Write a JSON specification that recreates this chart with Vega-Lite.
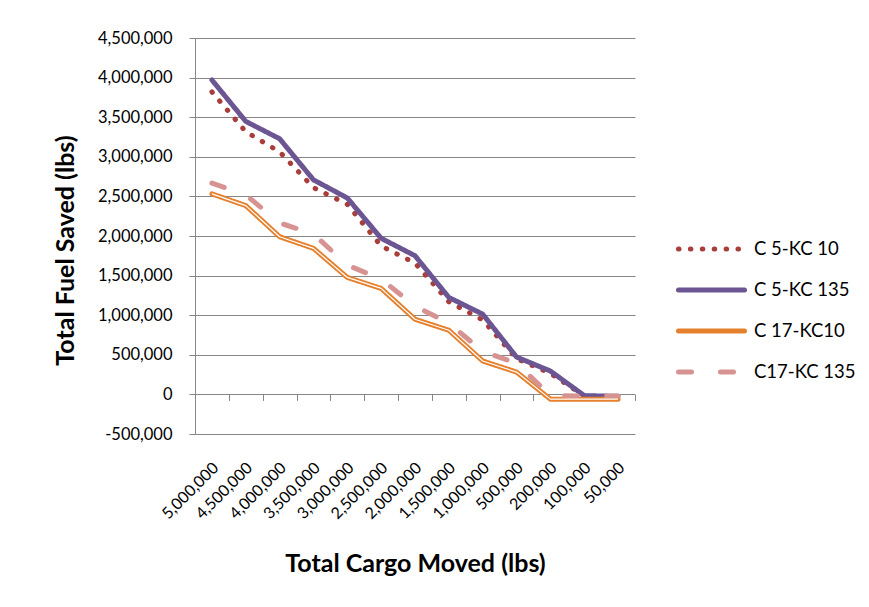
{
  "$schema": "https://vega.github.io/schema/vega-lite/v6.json",
  "width": 440,
  "height": 396,
  "autosize": {"type": "none"},
  "padding": {"left": 195, "top": 38, "right": 234, "bottom": 173},
  "background": "white",
  "config": {"view": {"stroke": null}, "font": "Lato"},
  "data": {
    "values": [
      {"series": "C 5-KC 10", "cargo": "5,000,000", "fuel": 3819000},
      {"series": "C 5-KC 10", "cargo": "4,500,000", "fuel": 3316000},
      {"series": "C 5-KC 10", "cargo": "4,000,000", "fuel": 3063000},
      {"series": "C 5-KC 10", "cargo": "3,500,000", "fuel": 2611000},
      {"series": "C 5-KC 10", "cargo": "3,000,000", "fuel": 2400000},
      {"series": "C 5-KC 10", "cargo": "2,500,000", "fuel": 1873000},
      {"series": "C 5-KC 10", "cargo": "2,000,000", "fuel": 1658000},
      {"series": "C 5-KC 10", "cargo": "1,500,000", "fuel": 1170000},
      {"series": "C 5-KC 10", "cargo": "1,000,000", "fuel": 940000},
      {"series": "C 5-KC 10", "cargo": "500,000", "fuel": 452000},
      {"series": "C 5-KC 10", "cargo": "200,000", "fuel": 266000},
      {"series": "C 5-KC 10", "cargo": "100,000", "fuel": -21000},
      {"series": "C 5-KC 10", "cargo": "50,000", "fuel": -30000},
      {"series": "C 5-KC 135", "cargo": "5,000,000", "fuel": 3970000},
      {"series": "C 5-KC 135", "cargo": "4,500,000", "fuel": 3447000},
      {"series": "C 5-KC 135", "cargo": "4,000,000", "fuel": 3228000},
      {"series": "C 5-KC 135", "cargo": "3,500,000", "fuel": 2709000},
      {"series": "C 5-KC 135", "cargo": "3,000,000", "fuel": 2480000},
      {"series": "C 5-KC 135", "cargo": "2,500,000", "fuel": 1971000},
      {"series": "C 5-KC 135", "cargo": "2,000,000", "fuel": 1751000},
      {"series": "C 5-KC 135", "cargo": "1,500,000", "fuel": 1224000},
      {"series": "C 5-KC 135", "cargo": "1,000,000", "fuel": 1013000},
      {"series": "C 5-KC 135", "cargo": "500,000", "fuel": 472000},
      {"series": "C 5-KC 135", "cargo": "200,000", "fuel": 295000},
      {"series": "C 5-KC 135", "cargo": "100,000", "fuel": -15000},
      {"series": "C 5-KC 135", "cargo": "50,000", "fuel": -25000},
      {"series": "C 17-KC10", "cargo": "5,000,000", "fuel": 2532000},
      {"series": "C 17-KC10", "cargo": "4,500,000", "fuel": 2384000},
      {"series": "C 17-KC10", "cargo": "4,000,000", "fuel": 1991000},
      {"series": "C 17-KC10", "cargo": "3,500,000", "fuel": 1844000},
      {"series": "C 17-KC10", "cargo": "3,000,000", "fuel": 1477000},
      {"series": "C 17-KC10", "cargo": "2,500,000", "fuel": 1338000},
      {"series": "C 17-KC10", "cargo": "2,000,000", "fuel": 949000},
      {"series": "C 17-KC10", "cargo": "1,500,000", "fuel": 810000},
      {"series": "C 17-KC10", "cargo": "1,000,000", "fuel": 422000},
      {"series": "C 17-KC10", "cargo": "500,000", "fuel": 282000},
      {"series": "C 17-KC10", "cargo": "200,000", "fuel": -60000},
      {"series": "C 17-KC10", "cargo": "100,000", "fuel": -60000},
      {"series": "C 17-KC10", "cargo": "50,000", "fuel": -60000},
      {"series": "C17-KC 135", "cargo": "5,000,000", "fuel": 2667000},
      {"series": "C17-KC 135", "cargo": "4,500,000", "fuel": 2519000},
      {"series": "C17-KC 135", "cargo": "4,000,000", "fuel": 2165000},
      {"series": "C17-KC 135", "cargo": "3,500,000", "fuel": 2025000},
      {"series": "C17-KC 135", "cargo": "3,000,000", "fuel": 1633000},
      {"series": "C17-KC 135", "cargo": "2,500,000", "fuel": 1456000},
      {"series": "C17-KC 135", "cargo": "2,000,000", "fuel": 1114000},
      {"series": "C17-KC 135", "cargo": "1,500,000", "fuel": 899000},
      {"series": "C17-KC 135", "cargo": "1,000,000", "fuel": 544000},
      {"series": "C17-KC 135", "cargo": "500,000", "fuel": 392000},
      {"series": "C17-KC 135", "cargo": "200,000", "fuel": -13000},
      {"series": "C17-KC 135", "cargo": "100,000", "fuel": -20000},
      {"series": "C17-KC 135", "cargo": "50,000", "fuel": -20000}
    ]
  },
  "encoding": {
    "y": {
      "field": "fuel", "type": "quantitative",
      "scale": {"domain": [-500000, 4500000], "nice": false, "zero": false},
      "axis": {
        "values": [-500000, 0, 500000, 1000000, 1500000, 2000000, 2500000, 3000000, 3500000, 4000000, 4500000],
        "labelExpr": "replace(format(datum.value, ','), '\u2212', '-')",
        "labelOverlap": false,
        "grid": true, "gridColor": "#868686", "gridWidth": 1,
        "domain": true, "domainColor": "#868686", "domainWidth": 1,
        "ticks": true, "tickColor": "#868686", "tickSize": 6,
        "labelFontSize": 16.5, "labelPadding": 17, "labelColor": "#000000",
        "title": "Total Fuel Saved (lbs)", "titleFontSize": 25, "titleFontWeight": "bold",
        "titleColor": "#000000", "titleX": -130, "titleY": 212,
        "titleAlign": "center", "titleBaseline": "middle", "titleAngle": -90
      }
    }
  },
  "layer": [
    {
      "mark": {"type": "line", "strokeWidth": 5, "strokeCap": "round", "strokeJoin": "round"},
      "encoding": {
        "x": {
          "field": "cargo", "type": "ordinal", "sort": null,
          "scale": {"paddingInner": 0, "paddingOuter": 0},
          "axis": {
            "orient": "bottom", "domain": false, "ticks": false, "grid": false,
            "labelAngle": -45, "labelAlign": "right", "labelBaseline": "middle",
            "labelPadding": 31, "labelOffset": 4, "labelFontSize": 16, "labelColor": "#000000",
            "labelOverlap": false, "labelFlush": false,
            "title": "Total Cargo Moved (lbs)", "titleFontSize": 25, "titleFontWeight": "bold",
            "titleColor": "#000000", "titleY": 129, "titleBaseline": "middle"
          }
        },
        "color": {
          "field": "series", "type": "nominal",
          "scale": {
            "domain": ["C 5-KC 10", "C 5-KC 135", "C 17-KC10", "C17-KC 135"],
            "range": ["#A83D3A", "#6B5592", "#E5812E", "#D79392"]
          },
          "legend": {
            "title": null, "orient": "none", "legendX": 497.5, "legendY": 192,
            "symbolType": "M-2,0H2", "symbolSize": 1089, "symbolStrokeWidth": 5,
            "labelFontSize": 18.5, "labelColor": "#000000", "labelOffset": 23.5,
            "rowPadding": 12, "padding": 0,
            "encoding": {"symbols": {"strokeCap": {"value": "round"}}}
          }
        },
        "strokeDash": {
          "field": "series", "type": "nominal",
          "scale": {
            "domain": ["C 5-KC 10", "C 5-KC 135", "C 17-KC10", "C17-KC 135"],
            "range": [[0.5, 11.4], [1, 0], [1, 0], [13, 29]]
          },
          "legend": {
            "title": null, "orient": "none", "legendX": 497.5, "legendY": 192,
            "symbolType": "M-2,0H2", "symbolSize": 1089, "symbolStrokeWidth": 5,
            "labelFontSize": 18.5, "labelColor": "#000000", "labelOffset": 23.5,
            "rowPadding": 12, "padding": 0,
            "encoding": {"symbols": {"strokeCap": {"value": "round"}}}
          }
        }
      }
    },
    {
      "transform": [{"filter": "datum.series === 'C 17-KC10'"}],
      "mark": {"type": "line", "strokeWidth": 1.2, "color": "#FFFFFF", "strokeJoin": "round"},
      "encoding": {
        "x": {
          "field": "cargo", "type": "ordinal", "sort": null,
          "axis": {
            "orient": "bottom", "offset": -39.6, "labels": false, "domain": false,
            "ticks": true, "tickBand": "extent", "tickSize": 6, "tickColor": "#868686",
            "grid": false, "title": null
          }
        }
      }
    }
  ],
  "resolve": {"axis": {"x": "independent"}}
}
